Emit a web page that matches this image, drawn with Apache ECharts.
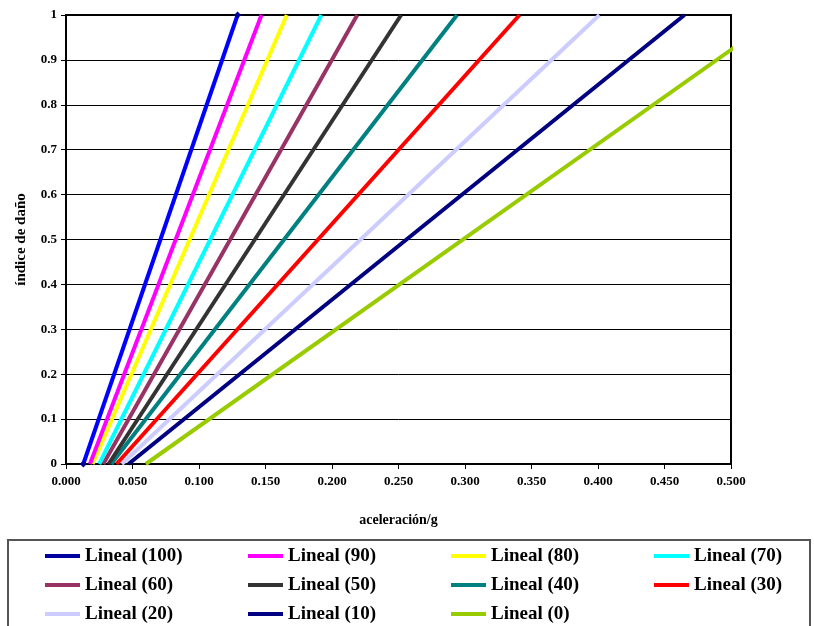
<!DOCTYPE html>
<html>
<head>
<meta charset="utf-8">
<script src="https://cdn.jsdelivr.net/npm/echarts@6/dist/echarts.min.js"></script>
<style>
  html, body { margin: 0; padding: 0; background: #fff; }
  #chart { width: 814px; height: 626px; }
</style>
</head>
<body>
<div id="chart"></div>
<script>
// series names, colours and the two end points (x at índice 0 and x at índice 1)
const seriesNames = ['Lineal (100)', 'Lineal (90)', 'Lineal (80)', 'Lineal (70)', 'Lineal (60)', 'Lineal (50)',
  'Lineal (40)', 'Lineal (30)', 'Lineal (20)', 'Lineal (10)', 'Lineal (0)']
const seriesColors = ['#0000ff', '#ff00ff', '#ffff00', '#00ffff', '#993366', '#333333',
  '#008080', '#ff0000', '#ccccff', '#000080', '#99cc00']
const xAtZero = [0.013, 0.018, 0.020, 0.025, 0.028, 0.032, 0.034, 0.038, 0.042, 0.047, 0.060]
const xAtOne = [0.129, 0.147, 0.166, 0.192, 0.219, 0.252, 0.294, 0.341, 0.401, 0.465, 0.537]
const damageLevels = [0, 1]

const serif = 'Liberation Serif'

const chart = echarts.init(document.getElementById('chart'))

const series = seriesNames.map((name, i) => ({
  name,
  type: 'line',
  data: damageLevels.map((y, k) => [k === 0 ? xAtZero[i] : xAtOne[i], y]),
  lineStyle: { color: seriesColors[i], width: 4 },
  itemStyle: { color: i === 0 ? '#0000a0' : seriesColors[i] },
  symbol: i === 0 ? 'diamond' : 'none',
  symbolSize: 7,
  clip: true,
  animation: false,
  z: 3 + (seriesNames.length - i),
}))

// 4 legend columns
const colLeft = [40, 243, 446, 649]
const legends = colLeft.map((left, c) => ({
  orient: 'vertical',
  left,
  top: 540,
  height: 100,
  itemGap: 7,
  itemWidth: 35,
  itemHeight: 4,
  icon: 'rect',
  selectedMode: false,
  data: seriesNames.filter((_, i) => i % 4 === c),
  textStyle: { fontFamily: serif, fontWeight: 'bold', fontSize: 19, color: '#000', lineHeight: 22 },
}))

chart.setOption({
  backgroundColor: '#fff',
  animation: false,
  grid: {
    left: 66, right: 83, top: 15, bottom: 162,
    outerBoundsMode: 'none',
    containLabel: false,
    show: true,
    borderColor: '#000',
    borderWidth: 2,
  },
  legend: legends,
  graphic: [{
    type: 'rect',
    shape: { x: 8, y: 540, width: 802, height: 100 },
    style: { fill: 'none', stroke: '#555', lineWidth: 2 },
    silent: true,
  }],
  xAxis: {
    type: 'value',
    min: 0, max: 0.5, interval: 0.05,
    name: 'aceleración/g',
    nameLocation: 'middle',
    nameGap: 49,
    nameTextStyle: { fontFamily: serif, fontWeight: 'bold', fontSize: 14, color: '#000' },
    axisLine: { show: true, lineStyle: { color: '#000', width: 2 } },
    axisTick: { show: true, length: 5, lineStyle: { color: '#000', width: 1 } },
    axisLabel: {
      fontFamily: serif, fontWeight: 'bold', fontSize: 13, color: '#000', margin: 11,
      formatter: v => v.toFixed(3),
    },
    splitLine: { show: false },
  },
  yAxis: {
    type: 'value',
    min: 0, max: 1, interval: 0.1,
    name: 'índice de daño',
    nameLocation: 'middle',
    nameGap: 37,
    nameTextStyle: { fontFamily: serif, fontWeight: 'bold', fontSize: 15, color: '#000' },
    axisLine: { show: true, lineStyle: { color: '#000', width: 2 } },
    axisTick: { show: true, length: 5, lineStyle: { color: '#000', width: 1 } },
    axisLabel: { fontFamily: serif, fontWeight: 'bold', fontSize: 13, color: '#000', margin: 9 },
    splitLine: { show: true, lineStyle: { color: '#000', width: 1 } },
  },
  series,
})
</script>
</body>
</html>
